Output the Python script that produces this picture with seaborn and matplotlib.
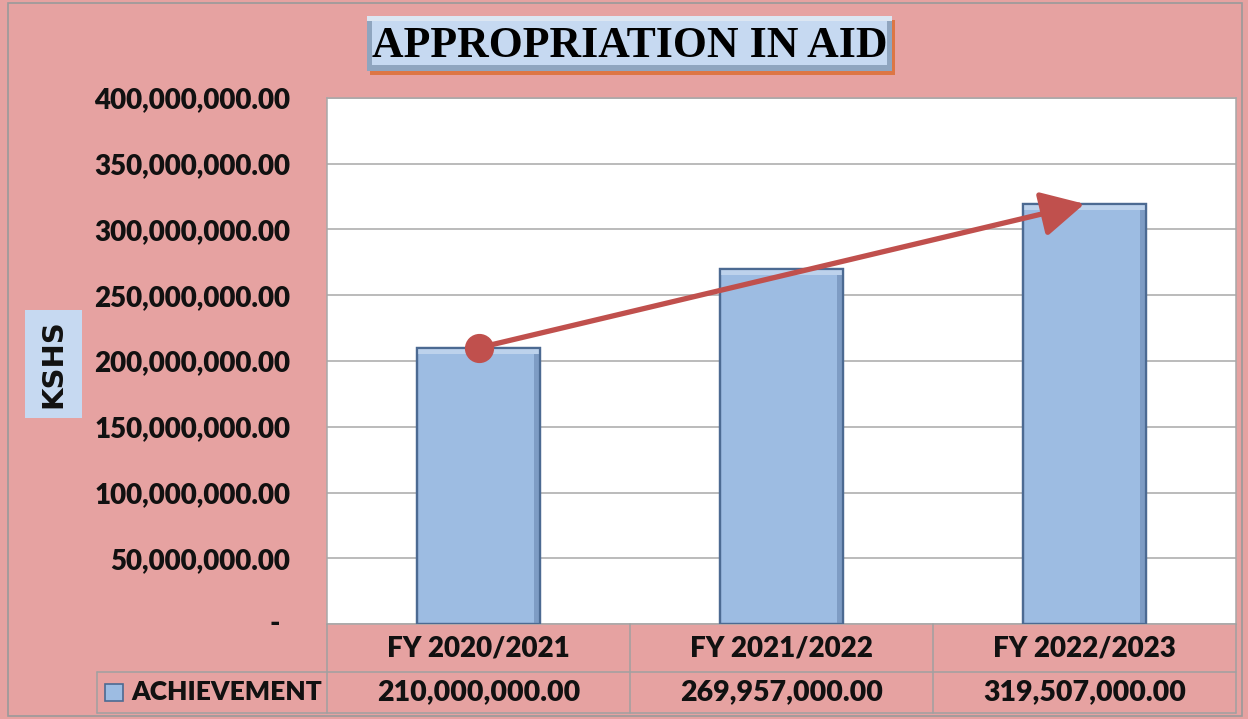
import matplotlib
matplotlib.use('Agg')
import matplotlib.pyplot as plt
import seaborn as sns
import pandas as pd
from matplotlib.patches import Rectangle
from matplotlib.lines import Line2D
from matplotlib.ticker import FuncFormatter

# ---------------- data ----------------
categories = ['FY 2020/2021', 'FY 2021/2022', 'FY 2022/2023']
achievement = [210000000.00, 269957000.00, 319507000.00]
series_name = 'ACHIEVEMENT'
title_text = 'APPROPRIATION IN AID'
ylabel_text = 'KSHS'
y_ticks = [0, 50000000, 100000000, 150000000, 200000000,
           250000000, 300000000, 350000000, 400000000]

# ---------------- style ----------------
PINK = '#E6A2A1'
BAR = '#9DBCE2'
EDGE = '#4C6A92'
RED = '#C0504D'
GRID = '#A8A8A8'
BOXBLUE = '#C6D9F1'
TXT = '#111111'
WEIGHT = 'heavy'

sns.set_theme(style='white')
plt.rcParams['font.family'] = ['Lato', 'DejaVu Sans']

W, H = 1248, 719
fig = plt.figure(figsize=(W / 100, H / 100), dpi=100)
fig.patch.set_facecolor(PINK)


def fx(px):
    return px / W


def fy(py):
    return 1 - py / H


# outer border
fig.patches.append(Rectangle((fx(8), fy(716)), fx(1242 - 8), (716 - 3) / H,
                             transform=fig.transFigure, fill=False,
                             edgecolor='#9A9A9A', lw=1.2, zorder=0))

L, R, T, B = 327, 1236, 98, 624
ax = fig.add_axes([fx(L), fy(B), fx(R - L), (B - T) / H])
ax.set_facecolor('white')

df = pd.DataFrame({'category': categories, 'value': achievement})
sns.barplot(data=df, x='category', y='value', ax=ax, color=BAR,
            width=0.405, edgecolor=EDGE, linewidth=1.6, saturation=1,
            zorder=2)

ax.set_xlim(-0.5, len(categories) - 0.5)
ax.set_ylim(0, 400000000)

# subtle bevel on the bars, derived from the bar patches
px_x = (len(categories)) / (R - L)       # data units per pixel (x)
px_y = 400000000 / (B - T)               # data units per pixel (y)
for p in list(ax.patches):
    x0, w, h = p.get_x(), p.get_width(), p.get_height()
    ax.add_patch(Rectangle((x0 + w - 6 * px_x, 0), 6 * px_x, h,
                           facecolor='#7E9CC4', edgecolor='none', zorder=2.5))
    ax.add_patch(Rectangle((x0, h - 6 * px_y), w, 6 * px_y,
                           facecolor='#BDD2EC', edgecolor='none', zorder=2.6))
    ax.add_patch(Rectangle((x0, 0), w, h, facecolor='none', edgecolor=EDGE,
                           lw=1.6, zorder=2.7))

ax.set_yticks(y_ticks)
ax.yaxis.set_major_formatter(
    FuncFormatter(lambda v, p: '' if v == 0 else f'{v:,.2f}'))
ax.grid(axis='y', color=GRID, lw=1.1, zorder=0)
ax.grid(axis='x', visible=False)
ax.set_axisbelow(True)
ax.set_xticks([])
ax.set_xlabel('')
ax.set_ylabel('')
ax.tick_params(axis='y', length=0, pad=26.5, labelsize=20)
for lab in ax.get_yticklabels():
    lab.set_fontweight(WEIGHT)
    lab.set_color(TXT)
for s in ax.spines.values():
    s.set_color(GRID)
    s.set_linewidth(1.1)

# zero label "-"
ax.text(-0.058, 0, '-', transform=ax.get_yaxis_transform(), ha='center',
        va='center', fontsize=20, fontweight=WEIGHT, color=TXT)

# trend arrow
ax.annotate('', xy=(2, achievement[2]), xytext=(0, achievement[0]),
            arrowprops=dict(arrowstyle='-|>,head_length=2.2,head_width=1.15',
                            color=RED, lw=3.8, shrinkA=0, shrinkB=0),
            zorder=5)
ax.plot([0], [achievement[0]], 'o', color=RED, markersize=20, zorder=6)

# title box
tx0, tx1, ty0, ty1 = 367, 892, 16, 71
fig.patches.append(Rectangle((fx(tx0 + 3), fy(ty1 + 4)), fx(tx1 - tx0),
                             (ty1 - ty0) / H, transform=fig.transFigure,
                             facecolor='#DD7645', edgecolor='none', zorder=1))
fig.patches.append(Rectangle((fx(tx0), fy(ty1)), fx(tx1 - tx0),
                             (ty1 - ty0) / H, transform=fig.transFigure,
                             facecolor='#8FA5BF', edgecolor='none', zorder=2))
fig.patches.append(Rectangle((fx(tx0), fy(ty0 + 5)), fx(tx1 - tx0), 5 / H,
                             transform=fig.transFigure,
                             facecolor='#DCE6F2', edgecolor='none', zorder=2))
fig.patches.append(Rectangle((fx(tx0 + 5), fy(ty1 - 6)), fx(tx1 - tx0 - 10),
                             (ty1 - ty0 - 11) / H, transform=fig.transFigure,
                             facecolor=BOXBLUE, edgecolor='none', zorder=3))
fig.text(fx((tx0 + tx1) / 2), fy(46), title_text, ha='center', va='center',
         fontsize=31.5, fontweight='bold', family=['Liberation Serif'],
         color='black', zorder=4)

# y label box
fig.patches.append(Rectangle((fx(25), fy(418)), fx(82 - 25), (418 - 310) / H,
                             transform=fig.transFigure, facecolor=BOXBLUE,
                             edgecolor='none', zorder=1))
fig.text(fx(53), fy(364), ylabel_text, rotation=90, ha='center', va='center',
         fontsize=21, fontweight='bold', family=['DejaVu Sans'], color=TXT,
         zorder=2)

# data table
LINE = '#A0A0A0'
r1b, r2b = 672, 713
rowlab_left = 97
n = len(categories)
col_edges = [L + (R - L) * i / n for i in range(n + 1)]


def hline(y, x0, x1):
    fig.add_artist(Line2D([fx(x0), fx(x1)], [fy(y), fy(y)],
                          transform=fig.transFigure, color=LINE, lw=1.1))


def vline(x, y0, y1):
    fig.add_artist(Line2D([fx(x), fx(x)], [fy(y0), fy(y1)],
                          transform=fig.transFigure, color=LINE, lw=1.1))


hline(r1b, rowlab_left, R)
hline(r2b, rowlab_left, R)
for xe in col_edges:
    vline(xe, B, r2b)
vline(rowlab_left, r1b, r2b)

for i, (cat, val) in enumerate(zip(categories, achievement)):
    cx = (col_edges[i] + col_edges[i + 1]) / 2
    fig.text(fx(cx), fy(648), cat, ha='center', va='center', fontsize=20,
             fontweight=WEIGHT, color=TXT)
    fig.text(fx(cx), fy(692), f'{val:,.2f}', ha='center', va='center',
             fontsize=20.5, fontweight=WEIGHT, color=TXT)

# legend key + row label
fig.patches.append(Rectangle((fx(105), fy(701)), fx(18), 17 / H,
                             transform=fig.transFigure, facecolor=BAR,
                             edgecolor=EDGE, lw=1.2, zorder=3))
fig.text(fx(131), fy(692), series_name, ha='left', va='center', fontsize=19,
         fontweight=WEIGHT, color=TXT)

fig.savefig('out.png', dpi=100, facecolor=fig.get_facecolor())
